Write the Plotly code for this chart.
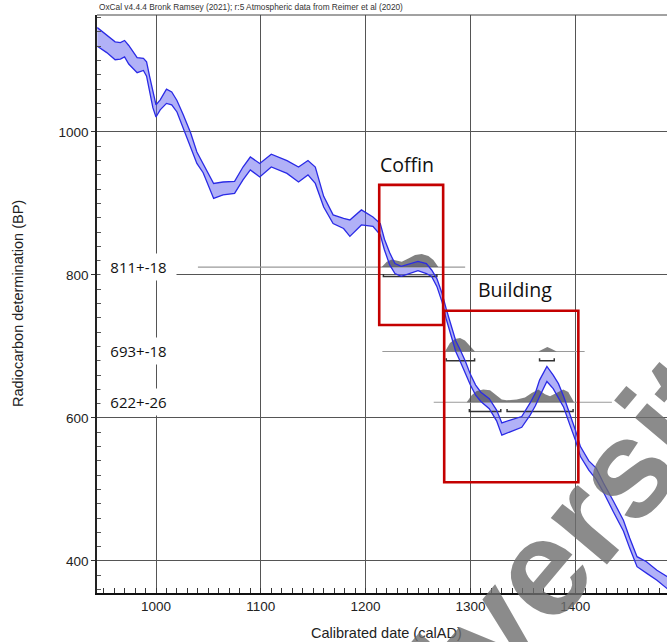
import plotly.graph_objects as go

# ---------------- data ----------------
years = [944, 953, 961, 966, 970, 974, 982, 988, 991, 994, 997, 1000, 1004, 1010,
         1015, 1020, 1026, 1033, 1039, 1045, 1055, 1064, 1075, 1083, 1090, 1099,
         1110, 1125, 1136, 1145, 1152, 1160, 1169, 1179, 1185, 1196, 1207, 1214,
         1218, 1223, 1228, 1234, 1242, 1250, 1258, 1263, 1268, 1273, 1277, 1282,
         1286, 1290, 1295, 1300, 1305, 1310, 1318, 1325, 1330, 1338, 1349, 1357,
         1362, 1366, 1373, 1379, 1384, 1389, 1395, 1400, 1405, 1413, 1420, 1427,
         1436, 1446, 1452, 1459, 1468, 1478, 1488]
bp_top = [1146, 1136, 1126, 1125, 1128, 1121, 1104, 1103, 1098, 1077, 1055, 1038, 1045, 1060,
          1056, 1044, 1024, 999, 972, 956, 928, 930, 931, 951, 965, 956,
          969, 960, 951, 960, 951, 910, 884, 879, 877, 891, 881, 872,
          850, 831, 816, 812, 815, 819, 816, 807, 795, 774, 752, 726,
          708, 696, 680, 661, 646, 636, 627, 611, 593, 597, 602, 621,
          635, 653, 672, 660, 648, 630, 605, 584, 560, 540, 530, 509,
          485, 457, 432, 406, 399, 387, 378]
bp_bottom = [1120, 1111, 1101, 1102, 1105, 1095, 1083, 1086, 1078, 1055, 1034, 1021, 1031, 1040,
             1038, 1028, 1006, 980, 956, 943, 907, 912, 914, 933, 947, 937,
             951, 942, 930, 940, 928, 895, 872, 865, 854, 870, 868, 856,
             835, 814, 802, 798, 802, 806, 802, 798, 784, 762, 738, 711,
             693, 680, 663, 646, 632, 623, 613, 596, 576, 581, 587, 604,
             617, 630, 651, 641, 628, 615, 590, 570, 546, 527, 514, 496,
             470, 442, 418, 392, 383, 373, 361]

meas_labels = ["811+-18", "693+-18", "622+-26"]
meas_bp = [811, 693, 622]
meas_line_start = [1040, 1216, 1265]
meas_line_end = [1295, 1409, 1435]

dist_years = [
    [1215.4, 1220.2, 1225.0, 1229.8, 1234.5, 1240.8, 1247.2, 1253.6, 1259.9, 1264.7, 1269.4],
    [1275.8, 1280.5, 1285.3, 1290.1, 1294.8, 1299.6, 1304.4, 1364.8, 1369.6, 1373.4, 1377.6, 1382.3],
    [1296.5, 1301.2, 1306.0, 1312.3, 1318.7, 1325.1, 1329.9, 1334.6, 1344.2, 1352.1, 1358.5,
     1364.8, 1371.2, 1376.0, 1382.3, 1388.6, 1393.4, 1398.9],
]
dist_heights = [
    [0, 7.4, 10.8, 8.8, 7.4, 12.2, 16.8, 18.2, 15.4, 9.8, 0],
    [0, 11.7, 17.3, 18.7, 15.4, 7.0, 0, 0, 3.4, 6.2, 3.4, 0],
    [0, 9.8, 15.8, 17.8, 16.8, 9.8, 3.8, 2.8, 3.8, 6.6, 13.0, 17.8, 11.2, 8.4, 13.0, 17.8, 14.4, 0],
]
dist_ranges = [
    [(1217, 1268)],
    [(1277, 1304), (1366, 1380)],
    [(1299, 1329), (1335, 1398)],
]

box_names = ["Coffin", "Building"]
box_x0 = [1213, 1275]
box_x1 = [1274, 1403]
box_y0 = [730, 510]
box_y1 = [926, 750]
box_label_x = [1211.5, 1305]
box_label_y = [955, 779]

title_text = "OxCal v4.4.4 Bronk Ramsey (2021); r:5 Atmospheric data from Reimer et al (2020)"
x_title = "Calibrated date (calAD)"
y_title = "Radiocarbon determination (BP)"
watermark = "University"

X_RANGE = [943.7, 1487.6]
Y_RANGE = [355.2, 1163.6]

# ---------------- figure ----------------
fig = go.Figure()

curve_blue = "#2a2ae6"
# band fill
fig.add_trace(go.Scatter(x=years, y=bp_bottom, mode="lines", line=dict(width=0, color=curve_blue),
                         showlegend=False, hoverinfo="skip"))
fig.add_trace(go.Scatter(x=years, y=bp_top, mode="lines", line=dict(width=0, color=curve_blue),
                         fill="tonexty", fillcolor="rgba(100,100,240,0.5)",
                         showlegend=False, hoverinfo="skip"))

# measurement lines
for bp, xs, xe in zip(meas_bp, meas_line_start, meas_line_end):
    fig.add_trace(go.Scatter(x=[xs, xe], y=[bp, bp], mode="lines",
                             line=dict(color="#9a9a9a", width=1.2),
                             showlegend=False, hoverinfo="skip"))

# distributions
for bp, yrs, hs in zip(meas_bp, dist_years, dist_heights):
    fig.add_trace(go.Scatter(x=yrs, y=[bp + h for h in hs], mode="lines",
                             line=dict(width=0, color="rgba(70,70,70,0.68)"),
                             fill="toself", fillcolor="rgba(70,70,70,0.68)",
                             showlegend=False, hoverinfo="skip"))

# range brackets
BR_OFF = 13
BR_TICK = 3.5
for bp, rngs in zip(meas_bp, dist_ranges):
    bx, by = [], []
    base = bp - BR_OFF
    for s, e in rngs:
        bx += [s, s, e, e, None]
        by += [base + BR_TICK, base, base, base + BR_TICK, None]
    fig.add_trace(go.Scatter(x=bx, y=by, mode="lines", line=dict(color="#333333", width=1.5),
                             showlegend=False, hoverinfo="skip"))

# curve outlines on top
fig.add_trace(go.Scatter(x=years, y=bp_bottom, mode="lines", line=dict(width=1.3, color=curve_blue),
                         showlegend=False, hoverinfo="skip"))
fig.add_trace(go.Scatter(x=years, y=bp_top, mode="lines", line=dict(width=1.3, color=curve_blue),
                         showlegend=False, hoverinfo="skip"))

# red boxes
for x0, x1, y0, y1 in zip(box_x0, box_x1, box_y0, box_y1):
    fig.add_shape(type="rect", x0=x0, x1=x1, y0=y0, y1=y1, xref="x", yref="y",
                  line=dict(color="#c40000", width=2.6), fillcolor="rgba(0,0,0,0)", layer="above")

# top border
fig.add_shape(type="line", xref="paper", yref="paper", x0=0, x1=1, y0=1, y1=1,
              line=dict(color="#444", width=1))

annotations = []
for name, lx, ly in zip(box_names, box_label_x, box_label_y):
    annotations.append(dict(x=lx, y=ly, xref="x", yref="y", text=name, showarrow=False,
                            xanchor="left", yanchor="middle",
                            font=dict(family="Open Sans", size=19.5, color="#111")))

for lab, bp in zip(meas_labels, meas_bp):
    annotations.append(dict(x=(100 - 97) / 570, y=bp, xref="paper", yref="y", text=lab,
                            showarrow=False, xanchor="left", yanchor="middle",
                            width=75, height=26, align="center", bgcolor="white", borderpad=0,
                            font=dict(family="Open Sans", size=15, color="#111")))

annotations.append(dict(x=0, y=(593 - 7) / 578, xref="paper", yref="paper", text=title_text,
                        showarrow=False, xanchor="left", yanchor="middle",
                        font=dict(family="Liberation Sans", size=8.3, color="#333")))
annotations.append(dict(x=(386 - 97) / 570, y=(593 - 633) / 578, xref="paper", yref="paper",
                        text=x_title, showarrow=False, xanchor="center", yanchor="middle",
                        font=dict(family="Liberation Sans", size=14.5, color="#222")))
annotations.append(dict(x=(18 - 97) / 570, y=(593 - 304) / 578, xref="paper", yref="paper",
                        text=y_title, showarrow=False, xanchor="center", yanchor="middle",
                        textangle=-90,
                        font=dict(family="Liberation Sans", size=14.5, color="#222")))
annotations.append(dict(x=(537 - 97) / 570, y=(593 - 573) / 578, xref="paper", yref="paper",
                        text="<b>" + watermark + "</b>", showarrow=False,
                        xanchor="center", yanchor="middle", textangle=-50,
                        font=dict(family="Liberation Sans", size=138, color="rgba(110,110,110,0.8)")))

fig.update_layout(
    width=667, height=642,
    margin=dict(l=97, r=0, t=15, b=49),
    paper_bgcolor="white", plot_bgcolor="white",
    showlegend=False,
    annotations=annotations,
    font=dict(family="Liberation Sans", color="#222"),
)
fig.update_xaxes(range=X_RANGE, tick0=1000, dtick=100, showgrid=True, gridcolor="#555", gridwidth=1.1,
                 showline=True, linecolor="#111", linewidth=2.2, zeroline=False,
                 ticks="inside", ticklen=5, tickcolor="#333",
                 minor=dict(dtick=10, ticks="inside", ticklen=5, tickcolor="#333", showgrid=False),
                 tickfont=dict(size=13.5, color="#222", family="Liberation Sans"))
fig.update_yaxes(range=Y_RANGE, tick0=0, dtick=200, showgrid=True, gridcolor="#555", gridwidth=1.1,
                 showline=True, linecolor="#222", linewidth=1.5, zeroline=False,
                 ticks="outside", ticklen=4, tickcolor="#333",
                 minor=dict(dtick=20, ticks="inside", ticklen=4, tickcolor="#555", showgrid=False),
                 tickfont=dict(size=13.5, color="#222", family="Liberation Sans"))

fig.write_html("out.html", config={"displayModeBar": False},
               post_script="document.body.style.margin='0';document.body.style.overflow='hidden';")
